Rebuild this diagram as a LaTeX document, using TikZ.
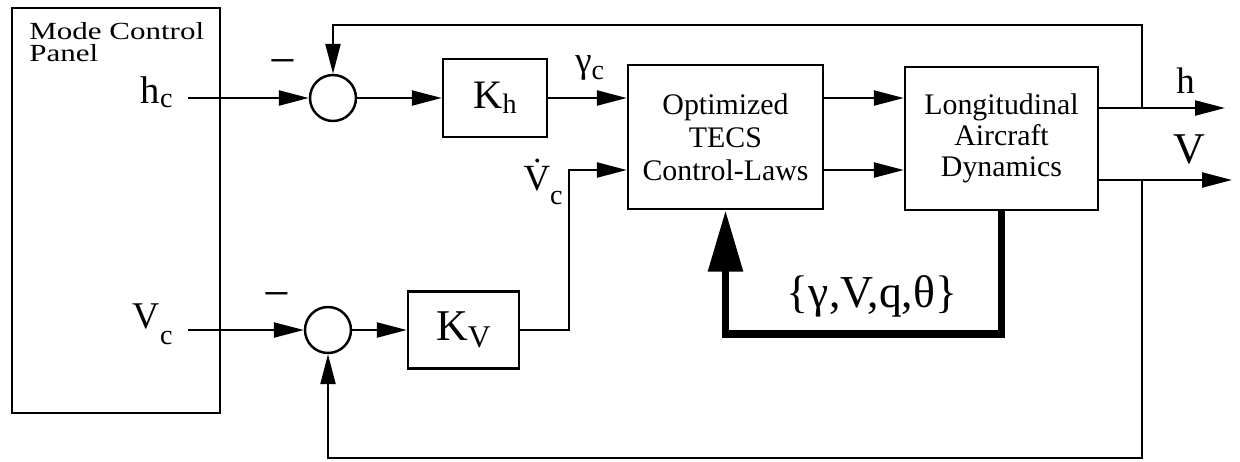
\documentclass[tikz,border=0pt]{standalone}
\usepackage{fontspec}
\setmainfont{Liberation Serif}
\newfontfamily\widefont{Liberation Serif}[FakeStretch=1.26]
\usetikzlibrary{arrows.meta}

% lowered subscript: drop, size, text
\newcommand{\lowsub}[3]{\raisebox{-#1}{\fontsize{#2}{#2}\selectfont #3}}

\tikzset{
  blk/.style={draw, line width=1.4pt, align=center, inner sep=0pt},
  sumpt/.style={draw, circle, line width=1.4pt, minimum size=0.92cm, inner sep=0pt},
  sig/.style={line width=1.3pt, -{Triangle[length=17pt,width=8.5pt]}},
  bus/.style={line width=4.5pt, -{Triangle[length=35pt,width=19pt]}},
  lbl/.style={inner sep=0pt}
}

\begin{document}
\begin{tikzpicture}[x=0.02cm, y=-0.02cm]
  \useasboundingbox (0,0) rectangle (1240,461);
  % mode control panel (left)
  \node[blk, minimum width=4.16cm, minimum height=8.1cm] (mcp) at (116,210.5) {};
  \node[lbl, anchor=north west, align=left, font=\widefont\fontsize{14}{12.6}\selectfont] (mcptxt) at (29,22) {Mode Control\\Panel};
  \node[lbl, anchor=base east, font=\fontsize{22}{26}\selectfont] (hc) at (173,103) {h\lowsub{2.3pt}{16}{c}};
  \node[lbl, anchor=base east, font=\fontsize{21.5}{26}\selectfont] (vc) at (173,328) {V\lowsub{9.5pt}{16}{c}};
  % summing points
  \node[sumpt] (sum1) at (333,98) {};
  \node[sumpt] (sum2) at (328,330) {};
  \node[lbl, font=\fontsize{27}{30}\selectfont] (m1) at (283,68) {−};
  \node[lbl, font=\fontsize{27}{30}\selectfont] (m2) at (277,301) {−};
  % gains
  \node[blk, minimum width=2.08cm, minimum height=1.56cm, font=\fontsize{23}{26}\selectfont] (kh) at (495,98) {K\lowsub{3pt}{16}{h}};
  \node[blk, minimum width=2.22cm, minimum height=1.54cm, font=\fontsize{25}{28}\selectfont] (kv) at (463.5,330) {K\lowsub{4pt}{18}{V}};
  % control laws and aircraft
  \node[blk, minimum width=3.9cm, minimum height=2.88cm, font=\fontsize{17}{18.7}\selectfont] (tecs) at (725.5,137) {Optimized\\TECS\\Control-Laws};
  \node[blk, minimum width=3.86cm, minimum height=2.86cm, font=\fontsize{17}{17.8}\selectfont] (long) at (1001.5,138.5) {Longitudinal\\Aircraft\\Dynamics};
  % helper points
  \coordinate (hin) at (188,98);
  \coordinate (vin) at (188,330);
  \coordinate (vdk) at (569,170);
  \coordinate (hout) at (1225,108);
  \coordinate (vout) at (1232,180);
  \coordinate (fbh) at (1142,108);
  \coordinate (fbv) at (1142,180);
  % forward paths
  \draw[sig] (hin) -- (sum1.west);
  \draw[sig] (sum1.east) -- (kh.west);
  \draw[sig] (kh.east) -- (kh.east -| tecs.west);
  \draw[sig] (vin) -- (sum2.west);
  \draw[sig] (sum2.east) -- (sum2.east -| kv.west);
  \draw[sig] (kv.east) -| (vdk) -- (vdk -| tecs.west);
  \draw[sig] (kh.east -| tecs.east) -- (kh.east -| long.west);
  \draw[sig] (vdk -| tecs.east) -- (vdk -| long.west);
  \draw[sig] (hout -| long.east) -- (hout);
  \draw[sig] (vout -| long.east) -- (vout);
  % feedback loops
  \draw[sig] (fbh) -- ++(0,-83) -| (sum1.north);
  \draw[sig] (fbv) -- ++(0,278) -| (sum2.south);
  \draw[bus] (long.south) -- ++(0,123) -| (tecs.south);
  % signal labels
  \node[lbl, anchor=base east, font=\fontsize{21}{24}\selectfont] (vdc) at (563,190) {\.{V}\lowsub{8.5pt}{16}{c}};
  \node[lbl, anchor=base west, font=\fontsize{21}{24}\selectfont] (gc) at (575,72) {γ\lowsub{4.5pt}{16}{c}};
  \node[lbl, anchor=base west, font=\fontsize{21}{24}\selectfont] (hlab) at (1176,93) {h};
  \node[lbl, anchor=base, font=\fontsize{25}{30}\selectfont] (vlab) at (1189,163) {V};
  \node[lbl, anchor=base, font=\fontsize{26}{30}\selectfont] (state) at (872,307) {\{γ,V,q,θ\}};
\end{tikzpicture}
\end{document}
